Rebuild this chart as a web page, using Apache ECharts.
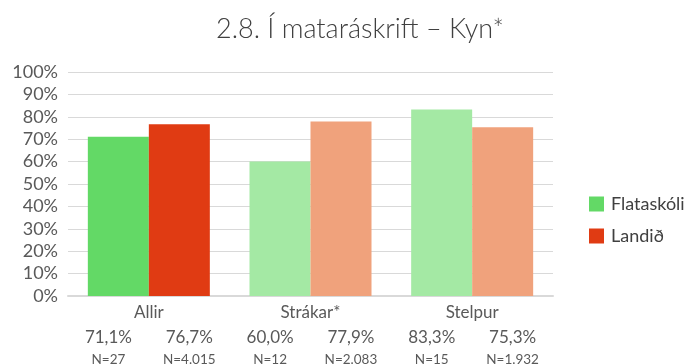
<!DOCTYPE html>
<html>
<head>
<meta charset="utf-8">
<script src="https://cdn.jsdelivr.net/npm/echarts@6/dist/echarts.min.js"></script>
<style>
  html, body { margin: 0; padding: 0; background: #fff; }
  #chart { width: 692px; height: 364px; }
</style>
</head>
<body>
<div id="chart"></div>
<script>
// Hlutfall nemenda í mataráskrift eftir kyni
const categories = ['Allir', 'Strákar*', 'Stelpur'];
const flataskoli = [71.1, 60.0, 83.3];
const landid = [76.7, 77.9, 75.3];
const flataskoliN = ['27', '12', '15'];
const landidN = ['4.015', '2.083', '1.932'];
const yTicks = [0, 10, 20, 30, 40, 50, 60, 70, 80, 90, 100];

const FONT = 'Lato, "Noto Sans", sans-serif';
const fmt = v => v.toFixed(1).replace('.', ',') + '%';

// One label slot per bar: value on top, N underneath
const barLabels = [];
categories.forEach((c, i) => {
  barLabels.push('{v|' + fmt(flataskoli[i]) + '}\n{n|N=' + flataskoliN[i] + '}');
  barLabels.push('{v|' + fmt(landid[i]) + '}\n{n|N=' + landidN[i] + '}');
});

const greenMain = '#63d966', greenLight = '#a4e9a4';
const redMain = '#e03b13', redLight = '#f0a27c';

const chart = echarts.init(document.getElementById('chart'), null, { renderer: 'canvas' });
chart.setOption({
  animation: false,
  backgroundColor: '#ffffff',
  title: {
    text: '2.8. Í mataráskrift – Kyn*',
    left: 355, textAlign: 'center', top: 11,
    textStyle: { fontFamily: FONT, fontSize: 27, fontWeight: 300, color: '#404040' }
  },
  legend: {
    orient: 'vertical', left: 584, top: 190,
    itemWidth: 15, itemHeight: 15, itemGap: 14,
    icon: 'rect',
    textStyle: { fontFamily: FONT, fontSize: 18, color: '#404040', padding: [0, 0, 0, 2] },
    data: ['Flataskóli', 'Landið']
  },
  grid: { left: 68, right: 139, top: 72, bottom: 68, containLabel: false, outerBoundsMode: 'none' },
  xAxis: [
    {
      type: 'category', data: categories,
      axisLine: { lineStyle: { color: '#d9d9d9', width: 2 } },
      axisTick: { show: false },
      axisLabel: { fontFamily: FONT, fontSize: 17, color: '#595959', margin: 8 }
    },
    {
      type: 'category', data: barLabels, position: 'bottom',
      axisLine: { show: false }, axisTick: { show: false },
      axisLabel: {
        margin: 31, interval: 0,
        rich: {
          v: { fontFamily: FONT, fontSize: 17, color: '#595959', lineHeight: 22 },
          n: { fontFamily: FONT, fontSize: 13.5, color: '#595959', lineHeight: 22 }
        }
      }
    }
  ],
  yAxis: {
    type: 'value', min: 0, max: 100, interval: 10,
    axisLabel: { fontFamily: FONT, fontSize: 18, color: '#595959', formatter: v => yTicks.includes(v) ? v + '%' : '', margin: 10 },
    splitLine: { lineStyle: { color: '#d9d9d9', width: 1 } },
    axisLine: { show: false }, axisTick: { show: false }
  },
  series: [
    {
      name: 'Flataskóli', type: 'bar', xAxisIndex: 0,
      barWidth: 61, barGap: '0%',
      itemStyle: { color: greenMain },
      data: flataskoli.map((v, i) => ({ value: v, itemStyle: { color: i === 0 ? greenMain : greenLight } }))
    },
    {
      name: 'Landið', type: 'bar', xAxisIndex: 0,
      barWidth: 61, barGap: '0%',
      itemStyle: { color: redMain },
      data: landid.map((v, i) => ({ value: v, itemStyle: { color: i === 0 ? redMain : redLight } }))
    }
  ]
});
</script>
</body>
</html>
